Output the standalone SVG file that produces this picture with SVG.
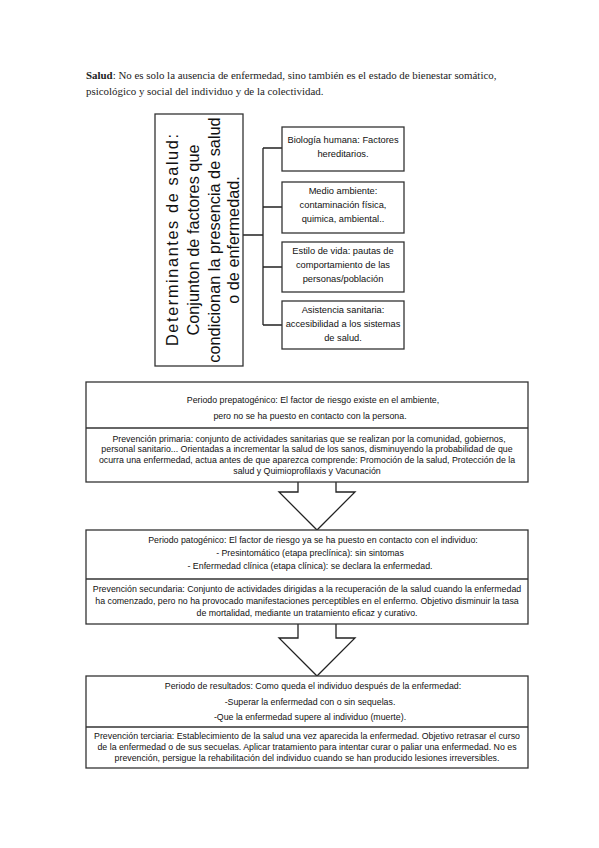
<svg xmlns="http://www.w3.org/2000/svg" width="599" height="848" viewBox="0 0 599 848">
<style>
  .bg{fill:#ffffff}
  .box{fill:#ffffff;stroke:#333333;stroke-width:1.3}
  .div{stroke:#333333;stroke-width:1.3;fill:none}
  .conn{stroke:#222222;stroke-width:1.3;fill:none}
  .arrow{fill:#ffffff;stroke:#222222;stroke-width:1.3;stroke-linejoin:miter}
  .hdr{font-family:"Liberation Serif","Times New Roman",serif;font-size:10.9px;fill:#222}
  .vt{font-family:"Liberation Sans",Arial,sans-serif;font-size:16.3px;fill:#111;text-anchor:middle}
  .rt{font-family:"Liberation Sans",Arial,sans-serif;font-size:9.3px;fill:#111;text-anchor:middle}
  .lt{font-family:"Liberation Sans",Arial,sans-serif;font-size:8.8px;fill:#111;text-anchor:middle}
</style>
<rect class="bg" x="0" y="0" width="599" height="848"/>

<g id="header">
  <text class="hdr" x="86" y="79"><tspan font-weight="bold">Salud</tspan>: No es solo la ausencia de enfermedad, sino también es el estado de bienestar somático,</text>
  <text class="hdr" x="86" y="95">psicológico y social del individuo y de la colectividad.</text>
</g>

<g id="connectors">
  <path class="conn" d="M243,235 H263 M263,148 V325 M263,148 H282 M263,207 H282 M263,267 H282 M263,325 H282"/>
  <polyline class="arrow" points="298,482 298,492 279,492 317,530 355,492 336,492 336,482"/>
  <polyline class="arrow" points="298,624 298,638 279,638 317,676 355,638 336,638 336,624"/>
</g>

<g id="determinantes">
  <rect class="box" x="155" y="114" width="88" height="252"/>
  <text class="vt" transform="translate(178,240) rotate(-90)" textLength="212" lengthAdjust="spacing">Determinantes de salud:</text>
  <text class="vt" transform="translate(199,240) rotate(-90)">Conjunton de factores que</text>
  <text class="vt" transform="translate(220,240) rotate(-90)">condicionan la presencia de salud</text>
  <text class="vt" transform="translate(239,240) rotate(-90)">o de enfermedad.</text>
</g>

<g id="biologia">
  <rect class="box" x="282" y="127" width="122" height="44"/>
  <text class="rt" x="343" y="143">Biología humana: Factores</text>
  <text class="rt" x="343" y="157">hereditarios.</text>
</g>

<g id="medio">
  <rect class="box" x="282" y="182" width="122" height="51"/>
  <text class="rt" x="343" y="194">Medio ambiente:</text>
  <text class="rt" x="343" y="208">contaminación física,</text>
  <text class="rt" x="343" y="222">quimica, ambiental..</text>
</g>

<g id="estilo">
  <rect class="box" x="282" y="242" width="122" height="50"/>
  <text class="rt" x="343" y="254">Estilo de vida: pautas de</text>
  <text class="rt" x="343" y="268">comportamiento de las</text>
  <text class="rt" x="343" y="282">personas/población</text>
</g>

<g id="asistencia">
  <rect class="box" x="282" y="301" width="122" height="48"/>
  <text class="rt" x="343" y="313">Asistencia sanitaria:</text>
  <text class="rt" x="343" y="327">accesibilidad a los sistemas</text>
  <text class="rt" x="343" y="341">de salud.</text>
</g>

<g id="prepatogenico">
  <rect class="box" x="86" y="382" width="442" height="100"/>
  <line class="div" x1="86" y1="428" x2="528" y2="428"/>
  <text class="lt" x="313" y="403">Periodo prepatogénico: El factor de riesgo existe en el ambiente,</text>
  <text class="lt" x="310" y="419">pero no se ha puesto en contacto con la persona.</text>
  <text class="lt" x="309" y="442">Prevención primaria: conjunto de actividades sanitarias que se realizan por la comunidad, gobiernos,</text>
  <text class="lt" x="307" y="452">personal sanitario... Orientadas a incrementar la salud de los sanos, disminuyendo la probabilidad de que</text>
  <text class="lt" x="307" y="463">ocurra una enfermedad, actua antes de que aparezca comprende: Promoción de la salud, Protección de la</text>
  <text class="lt" x="307" y="474">salud y Quimioprofilaxis y Vacunación</text>
</g>

<g id="patogenico">
  <rect class="box" x="86" y="530" width="442" height="94"/>
  <line class="div" x1="86" y1="579" x2="528" y2="579"/>
  <text class="lt" x="313" y="543">Periodo patogénico: El factor de riesgo ya se ha puesto en contacto con el individuo:</text>
  <text class="lt" x="310" y="556">- Presintomático (etapa preclínica): sin sintomas</text>
  <text class="lt" x="310" y="569">- Enfermedad clínica (etapa clínica): se declara la enfermedad.</text>
  <text class="lt" x="307" y="592">Prevención secundaria: Conjunto de actividades dirigidas a la recuperación de la salud cuando la enfermedad</text>
  <text class="lt" x="307" y="604">ha comenzado, pero no ha provocado manifestaciones perceptibles en el enfermo. Objetivo disminuir la tasa</text>
  <text class="lt" x="307" y="616">de mortalidad, mediante un tratamiento eficaz y curativo.</text>
</g>

<g id="resultados">
  <rect class="box" x="86" y="676" width="442" height="92"/>
  <line class="div" x1="86" y1="727" x2="528" y2="727"/>
  <text class="lt" x="313" y="689">Periodo de resultados: Como queda el individuo después de la enfermedad:</text>
  <text class="lt" x="310" y="705">-Superar la enfermedad con o sin sequelas.</text>
  <text class="lt" x="310" y="720">-Que la enfermedad supere al individuo (muerte).</text>
  <text class="lt" x="307" y="739">Prevención terciaria: Establecimiento de la salud una vez aparecida la enfermedad. Objetivo retrasar el curso</text>
  <text class="lt" x="307" y="750">de la enfermedad o de sus secuelas. Aplicar tratamiento para intentar curar o paliar una enfermedad. No es</text>
  <text class="lt" x="307" y="761">prevención, persigue la rehabilitación del individuo cuando se han producido lesiones irreversibles.</text>
</g>
</svg>
